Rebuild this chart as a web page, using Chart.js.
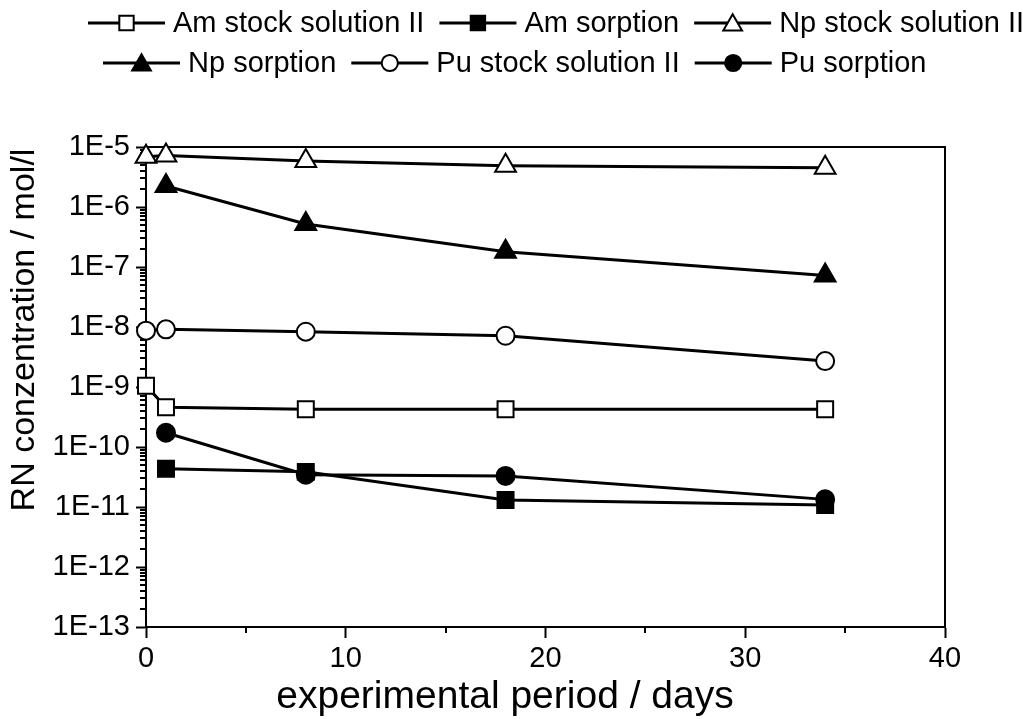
<!DOCTYPE html>
<html>
<head>
<meta charset="utf-8">
<script src="https://cdn.jsdelivr.net/npm/chart.js@4.4.0/dist/chart.umd.min.js"></script>
<style>
  html, body { margin: 0; padding: 0; background: #fff; }
  #wrap { width: 1023px; height: 719px; position: relative; }
</style>
</head>
<body>
<div id="wrap"><canvas id="c" width="1023" height="719"></canvas></div>
<script>
// Sampling days and measured concentrations (mol/l); null = no measurement
const days = [0, 1, 8, 18, 34];
const amStock    = [1.05e-9, 4.6e-10, 4.25e-10, 4.25e-10, 4.25e-10];
const amSorption = [null, 4.35e-11, 3.85e-11, 1.31e-11, 1.08e-11];
const npStock    = [6.9e-6, 7.2e-6, 5.85e-6, 4.85e-6, 4.5e-6];
const npSorption = [null, 2.24e-6, 5.2e-7, 1.8e-7, 7.2e-8];
const puStock    = [8.7e-9, 9.15e-9, 8.35e-9, 7.15e-9, 2.7e-9];
const puSorption = [null, 1.73e-10, 3.45e-11, 3.3e-11, 1.34e-11];

const seriesLabels = ['Am stock solution II', 'Am sorption', 'Np stock solution II',
                      'Np sorption', 'Pu stock solution II', 'Pu sorption'];

// Axis ticks
const xMajorTicks = [0, 10, 20, 30, 40];
const xMinorTicks = [5, 15, 25, 35];
const yMajorTicks = [1e-13, 1e-12, 1e-11, 1e-10, 1e-9, 1e-8, 1e-7, 1e-6, 1e-5];
const yTickLabels = ['1E-13', '1E-12', '1E-11', '1E-10', '1E-9', '1E-8', '1E-7', '1E-6', '1E-5'];
const yMinorMultipliers = [2, 3, 4, 5, 6, 7, 8, 9];

const FONT = "'Liberation Sans', Arial, Helvetica, sans-serif";
const MARKER_RADIUS = { rect: 11.3, triangle: 12, circle: 9 };

function makeSeries(label, values, style, filled) {
  const r = MARKER_RADIUS[style];
  return {
    label,
    data: days.map((d, i) => ({ x: d, y: values[i] })).filter(p => p.y !== null),
    borderColor: '#000',
    borderWidth: 3,
    pointStyle: style,
    pointRadius: r,
    pointHoverRadius: r,
    pointBackgroundColor: filled ? '#000' : '#fff',
    pointBorderColor: '#000',
    pointBorderWidth: 2,
    pointHoverBorderWidth: 2,
    tension: 0,
    fill: false,
    clip: false,
    _filled: filled
  };
}

const datasets = [
  makeSeries(seriesLabels[0], amStock, 'rect', false),
  makeSeries(seriesLabels[1], amSorption, 'rect', true),
  makeSeries(seriesLabels[2], npStock, 'triangle', false),
  makeSeries(seriesLabels[3], npSorption, 'triangle', true),
  makeSeries(seriesLabels[4], puStock, 'circle', false),
  makeSeries(seriesLabels[5], puSorption, 'circle', true)
];

// Small marker painter for the legend symbols
function paintMarker(ctx, style, r, x, y, filled) {
  ctx.beginPath();
  if (style === 'circle') {
    ctx.arc(x, y, r, 0, Math.PI * 2);
  } else if (style === 'rect') {
    const s = Math.SQRT1_2 * r;
    ctx.rect(x - s, y - s, 2 * s, 2 * s);
  } else {
    const k = Math.sqrt(3) / 2;
    ctx.moveTo(x, y - r);
    ctx.lineTo(x + k * r, y + r / 2);
    ctx.lineTo(x - k * r, y + r / 2);
    ctx.closePath();
  }
  ctx.fillStyle = filled ? '#000' : '#fff';
  ctx.fill();
  ctx.lineWidth = 2;
  ctx.strokeStyle = '#000';
  ctx.stroke();
}

const legendRows = [
  { items: [0, 1, 2], startX: 88, y: 23 },
  { items: [3, 4, 5], startX: 103, y: 63 }
];

const decorations = {
  id: 'decorations',
  beforeDatasetsDraw(chart) {
    const { ctx, chartArea: a, scales: { x, y } } = chart;
    ctx.save();
    ctx.strokeStyle = '#000';
    ctx.lineWidth = 2;
    // frame on top and right
    ctx.beginPath();
    ctx.moveTo(a.left - 1, a.top);
    ctx.lineTo(a.right, a.top);
    ctx.lineTo(a.right, a.bottom);
    ctx.stroke();
    // minor ticks on x
    ctx.beginPath();
    xMinorTicks.forEach(v => {
      const px = Math.round(x.getPixelForValue(v));
      ctx.moveTo(px, a.bottom);
      ctx.lineTo(px, a.bottom + 6);
    });
    // minor ticks on y
    for (let i = 0; i < yMajorTicks.length - 1; i++) {
      yMinorMultipliers.forEach(m => {
        const py = Math.round(y.getPixelForValue(m * yMajorTicks[i]));
        ctx.moveTo(a.left, py);
        ctx.lineTo(a.left - 6, py);
      });
    }
    ctx.stroke();
    ctx.restore();
  },
  afterDraw(chart) {
    const { ctx } = chart;
    ctx.save();
    ctx.fillStyle = '#000';
    ctx.textAlign = 'center';
    ctx.textBaseline = 'middle';
    // axis titles
    ctx.font = `39px ${FONT}`;
    ctx.fillText('experimental period / days', 505, 697);
    ctx.font = `34px ${FONT}`;
    ctx.translate(25, 330);
    ctx.rotate(-Math.PI / 2);
    ctx.fillText('RN conzentration / mol/l', 0, 0);
    ctx.restore();

    // legend
    ctx.save();
    ctx.font = `29px ${FONT}`;
    ctx.textBaseline = 'middle';
    ctx.textAlign = 'left';
    const symW = 77, gapText = 8, gapItem = 15;
    legendRows.forEach(row => {
      let cx = row.startX;
      row.items.forEach(idx => {
        const ds = chart.data.datasets[idx];
        ctx.strokeStyle = '#000';
        ctx.lineWidth = 3;
        ctx.beginPath();
        ctx.moveTo(cx, row.y);
        ctx.lineTo(cx + symW, row.y);
        ctx.stroke();
        paintMarker(ctx, ds.pointStyle, ds.pointRadius * 0.9, cx + symW / 2, row.y + (ds.pointStyle === 'triangle' ? 2 : 0), ds._filled);
        cx += symW + gapText;
        ctx.fillStyle = '#000';
        ctx.fillText(ds.label, cx, row.y + 1);
        cx += ctx.measureText(ds.label).width + gapItem;
      });
    });
    ctx.restore();
  }
};

const tickFont = { family: FONT, size: 29 };

new Chart(document.getElementById('c'), {
  type: 'line',
  data: { datasets },
  options: {
    responsive: false,
    animation: false,
    events: [],
    layout: { padding: { top: 147, right: 78, left: 0, bottom: 0 } },
    plugins: { legend: { display: false }, tooltip: { enabled: false }, title: { display: false } },
    scales: {
      x: {
        type: 'linear',
        min: 0, max: 40,
        afterBuildTicks: s => { s.ticks = xMajorTicks.map(v => ({ value: v })); },
        afterFit: s => { s.height = 92; },
        ticks: { font: tickFont, color: '#000', padding: 4, maxRotation: 0, autoSkip: false },
        grid: { display: true, drawOnChartArea: false, drawTicks: true, tickLength: 11, tickWidth: 2, tickColor: '#000', color: '#000' },
        border: { display: true, color: '#000', width: 2 }
      },
      y: {
        type: 'logarithmic',
        min: 1e-13, max: 1e-5,
        afterBuildTicks: s => { s.ticks = yMajorTicks.map(v => ({ value: v })); },
        afterFit: s => { s.width = 146; },
        ticks: {
          font: tickFont, color: '#000', padding: 6, autoSkip: false,
          callback: v => yTickLabels[yMajorTicks.indexOf(v)]
        },
        grid: { display: true, drawOnChartArea: false, drawTicks: true, tickLength: 10, tickWidth: 2, tickColor: '#000', color: '#000' },
        border: { display: true, color: '#000', width: 2 }
      }
    }
  },
  plugins: [decorations]
});
</script>
</body>
</html>
